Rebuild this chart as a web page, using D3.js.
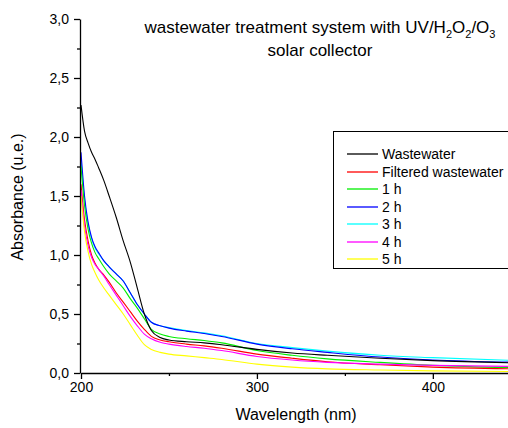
<!DOCTYPE html>
<html>
<head>
<meta charset="utf-8">
<script src="https://cdn.jsdelivr.net/npm/d3@7"></script>
<style>
  body { margin: 0; background: #fff; }
  svg { display: block; font-family: "Liberation Sans", Arial, sans-serif; }
  .axis path, .axis line { stroke: #000; stroke-width: 1.3; }
  .axis text { font-size: 14px; fill: #000; }
</style>
</head>
<body>
<svg id="chart" width="508" height="428"></svg>
<script>
const wavelengths = [200, 202, 204, 206, 208, 210, 213, 216, 220, 224, 228, 232, 236, 240, 245, 250, 260, 270, 280, 300, 320, 340, 370, 400, 450];

const wastewater = [2.27, 2.05, 1.95, 1.87, 1.81, 1.74, 1.63, 1.5, 1.32, 1.12, 0.94, 0.72, 0.5, 0.36, 0.3, 0.28, 0.265, 0.255, 0.24, 0.2, 0.17, 0.15, 0.125, 0.105, 0.085];
const filtered = [1.6, 1.3, 1.12, 1.0, 0.93, 0.88, 0.83, 0.77, 0.68, 0.6, 0.52, 0.44, 0.37, 0.31, 0.28, 0.265, 0.245, 0.23, 0.21, 0.16, 0.125, 0.095, 0.07, 0.05, 0.035];
const hour1 = [1.75, 1.42, 1.22, 1.1, 1.02, 0.97, 0.9, 0.84, 0.78, 0.72, 0.63, 0.55, 0.46, 0.37, 0.33, 0.31, 0.29, 0.275, 0.255, 0.19, 0.15, 0.12, 0.09, 0.065, 0.045];
const hour2 = [1.87, 1.5, 1.28, 1.15, 1.07, 1.02, 0.95, 0.9, 0.84, 0.78, 0.68, 0.58, 0.5, 0.43, 0.4, 0.38, 0.355, 0.335, 0.31, 0.245, 0.205, 0.175, 0.135, 0.11, 0.09];
const hour3 = [1.8, 1.47, 1.26, 1.14, 1.06, 1.01, 0.95, 0.9, 0.84, 0.78, 0.68, 0.58, 0.5, 0.43, 0.4, 0.385, 0.36, 0.34, 0.315, 0.25, 0.215, 0.185, 0.15, 0.13, 0.105];
const hour4 = [1.55, 1.25, 1.08, 0.98, 0.92, 0.88, 0.82, 0.75, 0.66, 0.57, 0.48, 0.4, 0.33, 0.29, 0.26, 0.245, 0.225, 0.21, 0.19, 0.14, 0.11, 0.09, 0.075, 0.065, 0.055];
const hour5 = [1.5, 1.2, 1.03, 0.92, 0.85, 0.79, 0.72, 0.66, 0.58, 0.5, 0.41, 0.32, 0.24, 0.2, 0.175, 0.16, 0.145, 0.13, 0.115, 0.075, 0.05, 0.035, 0.025, 0.018, 0.012];

const seriesNames = ['Wastewater', 'Filtered wastewater', '1 h', '2 h', '3 h', '4 h', '5 h'];
const seriesValues = [wastewater, filtered, hour1, hour2, hour3, hour4, hour5];
const seriesColors = ['#000000', '#ff0000', '#00ee00', '#0000ff', '#00ffff', '#ff00ff', '#ffff00'];

const xTicks = [200, 300, 400];
const yTicks = [0, 0.5, 1.0, 1.5, 2.0, 2.5, 3.0];

const svg = d3.select('#chart');

const x = d3.scaleLinear().domain([200, 445]).range([81, 512]);
const y = d3.scaleLinear().domain([0, 3]).range([373, 19]);
const fmt = d => d3.format('.1f')(d).replace('.', ',');

svg.append('defs').append('clipPath').attr('id', 'plot')
    .append('rect').attr('x', 80).attr('y', 10).attr('width', 440).attr('height', 364);

const line = d3.line()
    .x(d => x(d[0]))
    .y(d => y(d[1]))
    .curve(d3.curveMonotoneX);

const curves = svg.append('g').attr('clip-path', 'url(#plot)');
// draw back to front so black ends up on top of the others at the crossing
[4, 3, 2, 1, 5, 6, 0].forEach((i) => {
    curves.append('path')
        .datum(wavelengths.map((w, j) => [w, seriesValues[i][j]]))
        .attr('fill', 'none')
        .attr('stroke', seriesColors[i])
        .attr('stroke-width', 1.1)
        .attr('d', line);
});

// x axis, major + minor
svg.append('g').attr('class', 'axis')
    .attr('transform', 'translate(0,373)')
    .call(d3.axisBottom(x).tickValues([250, 350]).tickSize(3).tickFormat(''))
    .call(g => g.select('.domain').remove());
svg.append('g').attr('class', 'axis')
    .attr('transform', 'translate(0,373)')
    .call(d3.axisBottom(x).tickValues(xTicks).tickSize(6).tickSizeOuter(0).tickPadding(3).tickFormat(d3.format('d')));

// y axis, major + minor
svg.append('g').attr('class', 'axis')
    .attr('transform', 'translate(80,0)')
    .call(d3.axisLeft(y).tickValues([0.25, 0.75, 1.25, 1.75, 2.25, 2.75]).tickSize(3).tickFormat(''))
    .call(g => g.select('.domain').remove());
svg.append('g').attr('class', 'axis')
    .attr('transform', 'translate(80,0)')
    .call(d3.axisLeft(y).tickValues(yTicks).tickSize(6).tickSizeOuter(0).tickPadding(5).tickFormat(fmt));

// axis titles
svg.append('text')
    .attr('x', 296).attr('y', 420)
    .attr('text-anchor', 'middle').attr('font-size', 16)
    .text('Wavelength (nm)');
svg.append('text')
    .attr('transform', 'translate(23,197) rotate(-90)')
    .attr('text-anchor', 'middle').attr('font-size', 16)
    .text('Absorbance (u.e.)');

// title
const title = svg.append('text')
    .attr('x', 320).attr('y', 33)
    .attr('text-anchor', 'middle').attr('font-size', 17);
title.append('tspan').text('wastewater treatment system with UV/H');
title.append('tspan').attr('dy', 5).attr('font-size', 11).text('2');
title.append('tspan').attr('dy', -5).text('O');
title.append('tspan').attr('dy', 5).attr('font-size', 11).text('2');
title.append('tspan').attr('dy', -5).text('/O');
title.append('tspan').attr('dy', 5).attr('font-size', 11).text('3');
svg.append('text')
    .attr('x', 320).attr('y', 56)
    .attr('text-anchor', 'middle').attr('font-size', 17)
    .text('solar collector');

// legend
const legend = svg.append('g');
legend.append('rect')
    .attr('x', 333.5).attr('y', 131.5).attr('width', 180).attr('height', 137)
    .attr('fill', '#fff').attr('stroke', '#000').attr('stroke-width', 1);
seriesNames.forEach((name, i) => {
    const ly = Math.round(154 + i * 17.5);
    legend.append('line')
        .attr('x1', 347).attr('x2', 378).attr('y1', ly).attr('y2', ly)
        .attr('stroke', seriesColors[i]).attr('stroke-width', 1.3);
    legend.append('text')
        .attr('x', 382).attr('y', ly + 5)
        .attr('font-size', 14)
        .text(name);
});
</script>
</body>
</html>
